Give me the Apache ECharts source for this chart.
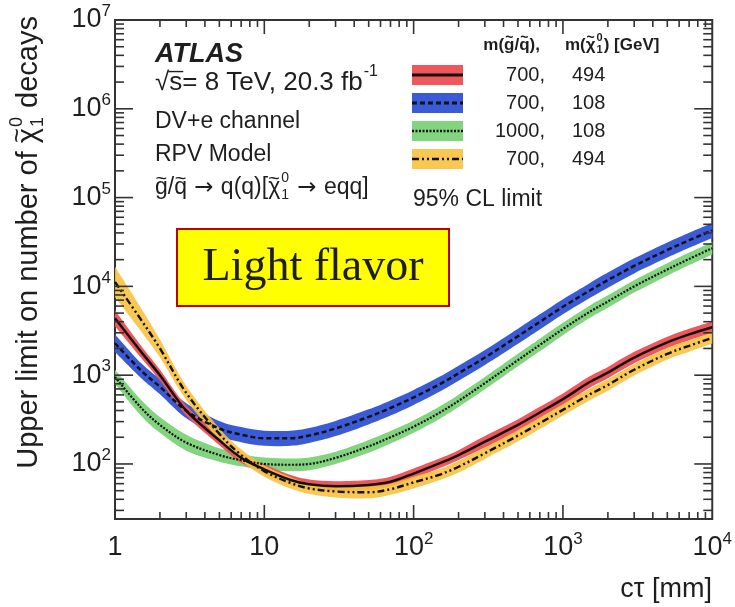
<!DOCTYPE html>
<html>
<head>
<meta charset="utf-8">
<script src="https://cdn.jsdelivr.net/npm/echarts@6/dist/echarts.min.js"></script>
<style>
  html, body { margin: 0; padding: 0; background: #ffffff; }
  #chart { width: 735px; height: 607px; }
</style>
</head>
<body>
<div id="chart"></div>
<script>
// cτ grid [mm] shared by every curve
const ctau = [1, 1.5, 2, 3, 5, 7, 10, 15, 20, 30, 50, 70, 100, 150, 200, 300, 500, 700, 1000, 1500, 2000, 3000, 5000, 7000, 10000];

// m(g/q)=700, m(chi)=494  (red, solid)
const redMid = [4370, 1820, 1000, 398, 185, 117, 87, 66, 59, 56, 58, 63, 78, 102, 126, 178, 275, 380, 537, 832, 1070, 1580, 2340, 2880, 3470];
const redLo  = [3550, 1560, 870, 351, 163, 103, 77, 58, 52, 49, 51, 56, 69, 90, 111, 153, 237, 328, 463, 717, 922, 1360, 2020, 2480, 2990];
const redHi  = [5380, 2130, 1150, 452, 210, 133, 99, 75, 67, 64, 66, 72, 89, 116, 143, 206, 319, 441, 623, 965, 1240, 1830, 2710, 3340, 4030];

// m(g/q)=700, m(chi)=108  (blue, dashed)
const blueMid = [2290, 1120, 741, 398, 251, 214, 195, 195, 209, 251, 339, 427, 562, 794, 1050, 1580, 2750, 3980, 5890, 8910, 11750, 17000, 25700, 33100, 42700];
const blueLo  = [1820, 921, 609, 327, 206, 176, 160, 160, 172, 206, 279, 351, 462, 653, 863, 1300, 2260, 3270, 4840, 7330, 9660, 14000, 21100, 27200, 35100];
const blueHi  = [2880, 1360, 901, 484, 305, 260, 237, 237, 254, 305, 412, 519, 683, 966, 1280, 1920, 3340, 4840, 7160, 10800, 14300, 20700, 31300, 40300, 51900];

// m(g/q)=1000, m(chi)=108  (green, dotted)
const greenMid = [955, 427, 275, 174, 126, 110, 100, 98, 100, 117, 158, 200, 263, 380, 513, 813, 1480, 2190, 3310, 5130, 6760, 10000, 15500, 20400, 26900];
const greenLo  = [796, 347, 224, 141, 106, 94, 85, 83, 85, 100, 134, 170, 224, 323, 437, 692, 1260, 1860, 2820, 4370, 5750, 8510, 13200, 17400, 22900];
const greenHi  = [1150, 525, 338, 214, 150, 129, 118, 115, 118, 137, 186, 235, 309, 447, 603, 955, 1740, 2570, 3890, 6030, 7940, 11750, 18200, 24000, 31600];

// m(g/q)=700, m(chi)=494  (yellow, dash-dot)
const yellowMid = [11200, 4170, 2000, 631, 218, 126, 83, 61, 53, 49, 48, 52, 62, 76, 93, 132, 209, 288, 407, 603, 776, 1150, 1740, 2140, 2630];
const yellowLo  = [7570, 3090, 1590, 526, 188, 109, 72, 53, 46, 42, 41, 45, 53, 66, 80, 114, 180, 248, 351, 520, 669, 991, 1500, 1840, 2270];
const yellowHi  = [16600, 5630, 2520, 757, 253, 146, 96, 71, 61, 57, 56, 60, 72, 88, 108, 153, 242, 334, 472, 699, 900, 1330, 2020, 2480, 3050];

// legend rows: mass of gluino/squark, mass of neutralino
const legendMassA = ['700,', '700,', '1000,', '700,'];
const legendMassB = ['494', '108', '108', '494'];

// axis ranges and tick positions
const X_MIN = 1, X_MAX = 10000;
const Y_MIN = 24, Y_MAX = 1e7;
const xDecades = [1, 10, 100, 1000, 10000];
const yDecades = [10, 100, 1000, 10000, 100000, 1000000, 10000000];
const minorSteps = [2, 3, 4, 5, 6, 7, 8, 9];

const SANS = '"Liberation Sans", Arial, Helvetica, sans-serif';
const SERIF = '"Liberation Serif", "Times New Roman", serif';
const ARROW = '"DejaVu Sans", sans-serif';
const INK = '#1e1e1e';

const colors = {
  red: '#ef575c',
  blue: '#3b5bd6',
  green: '#82d47e',
  yellow: 'rgba(247, 194, 64, 0.9)'
};

// ---- text layout helpers (super/subscripts, tildes, overline) ----
const measureCtx = document.createElement('canvas').getContext('2d');
function fontOf(size, weight, style, family) {
  return (style || 'normal') + ' ' + (weight || 'normal') + ' ' + size + 'px ' + (family || SANS);
}
function measure(text, font) { measureCtx.font = font; return measureCtx.measureText(text).width; }
function mk(text, x, y, font, align) {
  return {
    type: 'text', x: x, y: y,
    style: { text: text, font: font, fill: INK, textAlign: align || 'left', textVerticalAlign: 'middle' }
  };
}
// pieces share one centre line; {over:'~'} is centred on the previous glyph,
// {sup, sub} are stacked scripts, {t, family} switches font family,
// {t, bar:true} draws a rule over the piece
function textRun(pieces, size, opt) {
  opt = opt || {};
  const children = [];
  let x = 0, lastX = 0, lastW = 0;
  pieces.forEach(function (p) {
    if (typeof p === 'string') p = { t: p };
    if (p.sup !== undefined || p.sub !== undefined) {
      const ss = Math.round(size * 0.62);
      const f2 = fontOf(ss, opt.weight, opt.style);
      let w = 0;
      if (p.sup !== undefined) { children.push(mk(p.sup, x + 1, -size * 0.42, f2)); w = Math.max(w, measure(p.sup, f2)); }
      if (p.sub !== undefined) { children.push(mk(p.sub, x + 1, size * 0.32, f2)); w = Math.max(w, measure(p.sub, f2)); }
      x += w + 2;
      return;
    }
    if (p.over !== undefined) {
      const tf = fontOf(Math.round(size * 0.85), opt.weight, opt.style);
      const tw = measure(p.over, tf);
      children.push(mk(p.over, lastX + (lastW - tw) / 2, -size * 0.38, tf));
      return;
    }
    const font = fontOf(size, opt.weight, opt.style, p.family);
    const w = measure(p.t, font);
    children.push(mk(p.t, x, 0, font));
    if (p.bar) {
      const yb = -size * 0.44;
      children.push({ type: 'line', shape: { x1: x - 1, y1: yb, x2: x + w + 1, y2: yb }, style: { stroke: INK, lineWidth: 1.4 } });
    }
    lastX = x; lastW = w; x += w;
  });
  return { children: children, width: x };
}
function placeRun(run, x, y, extra) {
  return Object.assign({ type: 'group', x: x, y: y, children: run.children, silent: true }, extra || {});
}
const arrow = { t: ' → ', family: ARROW };

// ---- smooth closed band path through upper and lower edges ----
function splineSeg(pts) {
  let d = '';
  for (let i = 0; i < pts.length - 1; i++) {
    const p0 = pts[i - 1] || pts[i], p1 = pts[i], p2 = pts[i + 1], p3 = pts[i + 2] || p2;
    const c1x = p1[0] + (p2[0] - p0[0]) / 6, c1y = p1[1] + (p2[1] - p0[1]) / 6;
    const c2x = p2[0] - (p3[0] - p1[0]) / 6, c2y = p2[1] - (p3[1] - p1[1]) / 6;
    d += ' C' + c1x + ',' + c1y + ' ' + c2x + ',' + c2y + ' ' + p2[0] + ',' + p2[1];
  }
  return d;
}
function bandSeries(name, lo, hi, color) {
  return {
    type: 'custom', name: name, clip: true, silent: true,
    data: ctau.map(function (x, i) { return [x, lo[i], hi[i]]; }),
    encode: { x: 0, y: [1, 2] },
    renderItem: function (params, api) {
      if (params.dataIndex !== 0) return null;
      const up = ctau.map(function (x, i) { return api.coord([x, hi[i]]); });
      const dn = ctau.map(function (x, i) { return api.coord([x, lo[i]]); }).reverse();
      const d = 'M' + up[0][0] + ',' + up[0][1] + splineSeg(up) +
        ' L' + dn[0][0] + ',' + dn[0][1] + splineSeg(dn) + ' Z';
      return { type: 'path', shape: { pathData: d }, style: { fill: color, stroke: null } };
    }
  };
}
function lineSeries(name, mid, type, width) {
  return {
    type: 'line', name: name, symbol: 'none', smooth: 0.35, silent: true,
    data: ctau.map(function (x, i) { return [x, mid[i]]; }),
    lineStyle: { color: '#111', width: width, type: type },
    z: 3
  };
}

// ---- ROOT style inward ticks on all four sides ----
const tickSeries = {
  type: 'custom', silent: true, clip: false, z: 5,
  data: [[X_MIN, Y_MIN]],
  renderItem: function (params, api) {
    const lines = [];
    function add(a, b) {
      lines.push({ type: 'line', shape: { x1: a[0], y1: a[1], x2: b[0], y2: b[1] }, style: { stroke: '#333', lineWidth: 1.6 } });
    }
    function xTick(v, len) {
      const b = api.coord([v, Y_MIN]), t = api.coord([v, Y_MAX]);
      add(b, [b[0], b[1] - len]);
      add(t, [t[0], t[1] + len]);
    }
    function yTick(v, len) {
      const l = api.coord([X_MIN, v]), r = api.coord([X_MAX, v]);
      add(l, [l[0] + len, l[1]]);
      add(r, [r[0] - len, r[1]]);
    }
    xDecades.forEach(function (d) {
      if (d > X_MIN && d < X_MAX) xTick(d, 14);
      minorSteps.forEach(function (m) { if (d * m < X_MAX) xTick(d * m, 7); });
    });
    yDecades.forEach(function (d) {
      if (d > Y_MIN && d < Y_MAX) yTick(d, 18);
      minorSteps.forEach(function (m) { const v = d * m; if (v > Y_MIN && v < Y_MAX) yTick(v, 9); });
    });
    return { type: 'group', children: lines };
  }
};

// power-of-ten tick labels
function powLabel(v) {
  const e = Math.round(Math.log10(v));
  if (Math.abs(Math.log10(v) - e) > 1e-6) return '';
  if (e === 0) return '{b|1}';
  if (e === 1) return '{b|10}';
  return '{b|10}{e|' + e + '}';
}
const labelRich = {
  b: { fontFamily: SANS, fontSize: 27, color: INK, lineHeight: 34 },
  e: { fontFamily: SANS, fontSize: 17, color: INK, lineHeight: 14, verticalAlign: 'top' }
};

// ---- annotations ----
const graphics = [];
graphics.push(mk('ATLAS', 155, 55, fontOf(27, 'bold', 'italic')));
graphics.push(placeRun(textRun(['√', { t: 's', bar: true }, '= 8 TeV, 20.3 fb', { sup: '-1' }], 26), 155, 83));
graphics.push(mk('DV+e channel', 155, 122, fontOf(23)));
graphics.push(mk('RPV Model', 155, 155, fontOf(23)));
graphics.push(placeRun(textRun([
  'g', { over: '~' }, '/', 'q', { over: '~' }, arrow, 'q(q)[', 'χ', { over: '~' },
  { sup: '0', sub: '1' }, arrow, 'eqq]'
], 23), 155, 188));

// legend header
const hdrA = textRun(['m(', 'g', { over: '~' }, '/', 'q', { over: '~' }, '),'], 17, { weight: 'bold' });
graphics.push(placeRun(hdrA, 540 - hdrA.width, 45));
graphics.push(placeRun(textRun(['m(', 'χ', { over: '~' }, { sup: '0', sub: '1' }, ') [GeV]'], 17, { weight: 'bold' }), 565, 45));

// legend swatches
const legendRows = [
  { fill: colors.red, dash: 'solid', w: 3 },
  { fill: colors.blue, dash: [5, 3], w: 3 },
  { fill: colors.green, dash: [2, 1.5], w: 2.5 },
  { fill: colors.yellow, dash: [7, 3, 2, 3, 2, 3], w: 2.5 }
];
const rowY = [75, 103, 131, 159];
legendRows.forEach(function (r, i) {
  const y = rowY[i];
  graphics.push({ type: 'rect', silent: true, shape: { x: 412, y: y - 10, width: 51, height: 20 }, style: { fill: r.fill } });
  graphics.push({
    type: 'line', silent: true, shape: { x1: 412, y1: y, x2: 463, y2: y },
    style: { stroke: '#111', lineWidth: r.w, lineDash: r.dash === 'solid' ? null : r.dash }
  });
  graphics.push(mk(legendMassA[i], 545, y, fontOf(20), 'right'));
  graphics.push(mk(legendMassB[i], 572, y, fontOf(20)));
});
graphics.push(mk('95% CL limit', 413, 200, fontOf(23)));

// highlighted box
graphics.push({ type: 'rect', silent: true, shape: { x: 177, y: 229, width: 272, height: 77 }, style: { fill: '#ffff00', stroke: '#c00000', lineWidth: 2 } });
graphics.push(mk('Light flavor', 313, 268, fontOf(46, 'normal', 'normal', SERIF), 'center'));

// axis titles
graphics.push(mk('cτ [mm]', 712, 590, fontOf(27), 'right'));
const yTitle = textRun(['Upper limit on number of ', 'χ', { over: '~' }, { sup: '0', sub: '1' }, ' decays'], 29);
graphics.push(placeRun(yTitle, 29, 16 + yTitle.width, { rotation: Math.PI / 2 }));

const chart = echarts.init(document.getElementById('chart'), null, { renderer: 'canvas' });
chart.setOption({
  animation: false,
  backgroundColor: '#ffffff',
  grid: { left: 115, right: 20, top: 20, bottom: 88, show: true, borderColor: '#333', borderWidth: 2, backgroundColor: 'transparent' },
  xAxis: {
    type: 'log', logBase: 10, min: X_MIN, max: X_MAX,
    axisLine: { show: false }, axisTick: { show: false }, splitLine: { show: false },
    axisLabel: { margin: 12, formatter: powLabel, rich: labelRich }
  },
  yAxis: {
    type: 'log', logBase: 10, min: Y_MIN, max: Y_MAX,
    axisLine: { show: false }, axisTick: { show: false }, splitLine: { show: false },
    axisLabel: { margin: 4, formatter: powLabel, rich: labelRich }
  },
  series: [
    bandSeries('g1000_n108_band', greenLo, greenHi, colors.green),
    bandSeries('g700_n108_band', blueLo, blueHi, colors.blue),
    bandSeries('g700_n494_band', redLo, redHi, colors.red),
    bandSeries('g700_n494b_band', yellowLo, yellowHi, colors.yellow),
    lineSeries('g1000_n108', greenMid, [2, 1.5], 2.2),
    lineSeries('g700_n108', blueMid, [5, 3], 2.5),
    lineSeries('g700_n494', redMid, 'solid', 2.5),
    lineSeries('g700_n494b', yellowMid, [7, 3, 2, 3, 2, 3], 2.4),
    tickSeries
  ],
  graphic: graphics
});
</script>
</body>
</html>
